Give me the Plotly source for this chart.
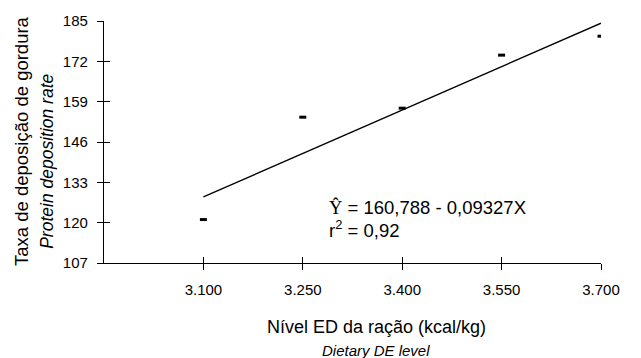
import plotly.graph_objects as go

# Data
de_levels = [3100, 3250, 3400, 3550, 3700]
deposition = [121.0, 154.0, 156.9, 174.0, 180.1]
fit_x = [3100, 3700]
fit_y = [128.3, 184.3]
x_ticks = [3100, 3250, 3400, 3550, 3700]
x_ticklabels = ["3.100", "3.250", "3.400", "3.550", "3.700"]
y_ticks = [107, 120, 133, 146, 159, 172, 185]

XR = [2950, 3700]
YR = [107, 185]
FONT = "Arial, Liberation Sans, sans-serif"

fig = go.Figure()
fig.add_trace(go.Scatter(x=fit_x, y=fit_y, mode="lines",
                         line=dict(color="black", width=1.3), showlegend=False))
fig.add_trace(go.Scatter(x=de_levels, y=deposition, mode="markers",
                         marker=dict(symbol="line-ew", size=5, color="black",
                                     line=dict(color="black", width=3)),
                         showlegend=False))

axis_common = dict(showgrid=False, zeroline=False, showline=True,
                   linecolor="black", linewidth=1.2, tickcolor="black",
                   tickwidth=1.2, ticklen=6)

fig.update_layout(
    width=641, height=358,
    margin=dict(l=104, r=40, t=19, b=95),
    plot_bgcolor="white", paper_bgcolor="white",
    font=dict(family=FONT, color="black"),
    xaxis=dict(range=XR, tickvals=x_ticks, ticktext=x_ticklabels, ticks="outside",
               tickfont=dict(size=15), ticklabelstandoff=7, **axis_common),
    yaxis=dict(range=YR, tickvals=y_ticks, ticks="outside",
               tickfont=dict(size=15), ticklabelstandoff=6, **axis_common),
    xaxis2=dict(range=XR, tickvals=x_ticks, ticks="inside", showticklabels=False,
                overlaying="x", anchor="y", side="bottom", **axis_common),
    yaxis2=dict(range=YR, tickvals=y_ticks, ticks="inside", showticklabels=False,
                overlaying="y", anchor="x", side="left", **axis_common),
)
# dummy trace to activate the secondary (inside-tick) axes
fig.add_trace(go.Scatter(x=[None], y=[None], xaxis="x2", yaxis="y2", showlegend=False))

annotations = [
    dict(text="Nível ED da ração (kcal/kg)", x=376, y=328, font=dict(size=18)),
    dict(text="<i>Dietary DE level</i>", x=376, y=351, font=dict(size=15)),
    dict(text="Taxa de deposição de gordura", x=21, y=140, textangle=-90, font=dict(size=18.5)),
    dict(text="<i>Protein deposition rate</i>", x=47, y=161, textangle=-90, font=dict(size=17.5)),
]
for a in annotations:
    fig.add_annotation(text=a["text"], xref="paper", yref="paper",
                       x=(a["x"] - 104) / 497, y=(263 - a["y"]) / 244,
                       showarrow=False, xanchor="center", yanchor="middle",
                       textangle=a.get("textangle", 0), font=a["font"])

fig.add_annotation(
    text='<span style="font-family:Liberation Serif, Times New Roman, serif">Ŷ</span> = 160,788 - 0,09327X',
    xref="paper", yref="paper", x=(327 - 104) / 497, y=(263 - 207) / 244,
    xanchor="left", yanchor="middle", showarrow=False, font=dict(size=18.5))
fig.add_annotation(
    text="r<sup>2</sup> = 0,92",
    xref="paper", yref="paper", x=(327 - 104) / 497, y=(263 - 229) / 244,
    xanchor="left", yanchor="middle", showarrow=False, font=dict(size=18.5))

fig.write_html("out.html")
